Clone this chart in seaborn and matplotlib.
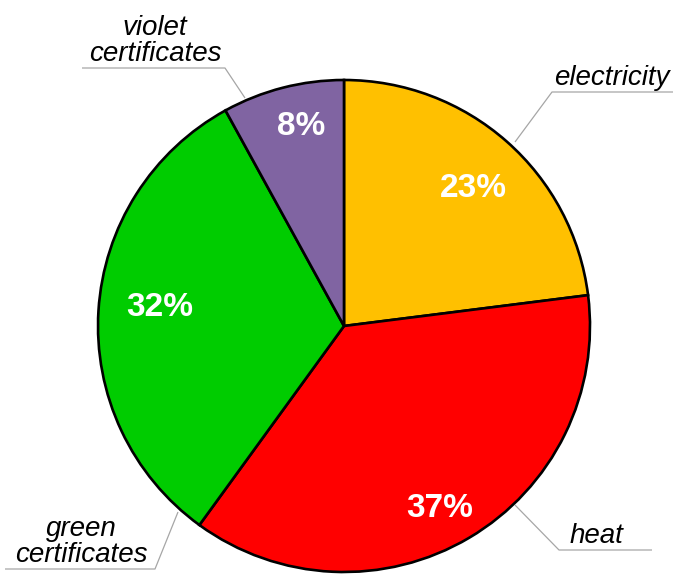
import matplotlib
matplotlib.use("Agg")
import matplotlib.pyplot as plt
import numpy as np
import seaborn as sns

# Shares of the support mechanisms
categories = ["electricity", "heat", "green\ncertificates", "violet\ncertificates"]
shares = [23, 37, 32, 8]
colors = ["#FFC000", "#FF0000", "#00CC00", "#8064A2"]

# Placement of each percentage label: fraction of the radius, angular shift (deg)
pct_radius = [0.777, 0.826, 0.753, 0.843]
pct_shift = [-1.1, -2.4, -3.2, -2.4]

sns.set_style("white")
plt.rcParams["font.family"] = ["Liberation Sans", "DejaVu Sans"]

W, H = 675, 574
fig = plt.figure(figsize=(W / 100, H / 100), dpi=100)
ax = fig.add_axes([0, 0, 1, 1])


def pt(x, y):
    """Top-down pixel coordinates -> axes data coordinates."""
    return (x, H - y)


cx, cy = pt(344, 326)
R = 246

wedges, _texts, autotexts = ax.pie(
    shares,
    colors=colors,
    startangle=90,
    counterclock=False,
    center=(cx, cy),
    radius=R,
    autopct=lambda p: f"{p:.0f}%",
    wedgeprops=dict(edgecolor="black", linewidth=1.9),
    textprops=dict(color="white", fontsize=24, fontweight="bold"),
)

for w, t, rf, dth in zip(wedges, autotexts, pct_radius, pct_shift):
    theta = np.deg2rad((w.theta1 + w.theta2) / 2 + dth)
    t.set_position((cx + rf * R * np.cos(theta), cy + rf * R * np.sin(theta)))
    t.set_ha("center")
    t.set_va("center_baseline")

# Outer labels with elbow leader lines: (edge point, elbow, line end, text x)
leaders = [
    ((515, 142), (552, 92), (673, 92), 612),
    ((515, 505), (559, 550), (652, 550), 596),
    ((178, 512), (155, 569), (5, 569), 81),
    ((245, 98), (225, 68), (82, 68), 155),
]

for name, (p0, p1, p2, tx) in zip(categories, leaders):
    xs, ys = zip(pt(*p0), pt(*p1), pt(*p2))
    ax.plot(xs, ys, color="#A6A6A6", linewidth=0.9, solid_capstyle="butt", zorder=0)
    ax.text(tx, H - p1[1] + 1, name, ha="center", va="bottom", fontsize=20,
            fontstyle="italic", color="black", linespacing=0.98)

ax.set_xlim(0, W)
ax.set_ylim(0, H)
ax.set_aspect("equal", adjustable="box")
ax.axis("off")

fig.savefig("out.png", dpi=100, facecolor="white")
